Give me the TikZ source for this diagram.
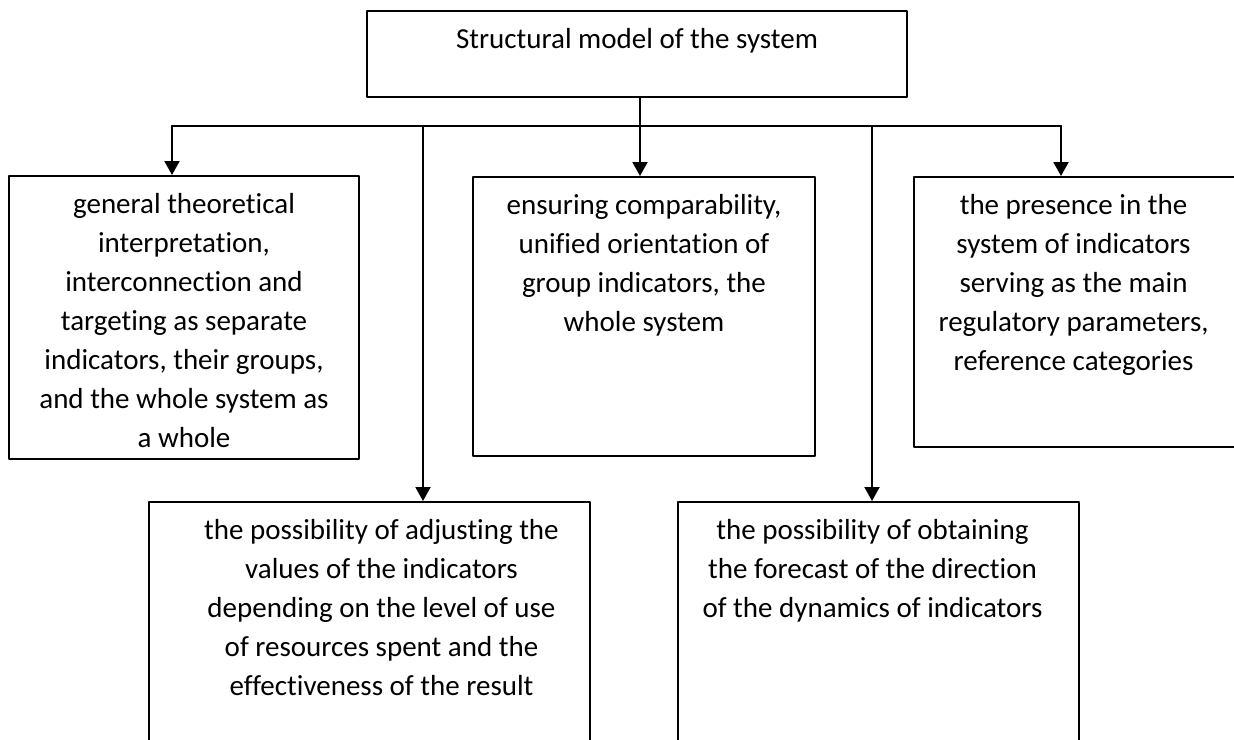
\documentclass[tikz,border=0pt]{standalone}
\usepackage{fontspec}
\setmainfont{Carlito}[Ligatures=NoCommon]
\usetikzlibrary{arrows.meta}

% text of a block: top aligned, centred, optional sideways shift
\newcommand{\boxtext}[4][0pt]{\parbox[c][#3][t]{#2}{\centering\leftskip=#1 plus 1fil\rightskip=-#1 plus 1fil\rule{0pt}{37pt}#4}}

\tikzset{blockbox/.style={draw, line width=2pt, inner sep=0pt, anchor=north west, font=\fontsize{29}{39}\selectfont}}

\begin{document}
\begin{tikzpicture}[line cap=round,line join=round,>={Triangle[width=15pt,length=14pt]},x=1pt,y=-1pt]
      \useasboundingbox (0,0) rectangle (1234,739);
      \clip (0,0) rectangle (1234,739);

      \node[blockbox] (model) at (366,10) {\boxtext{540pt}{86pt}{Structural model of the system}};

      \node[blockbox] (theory) at (8,175) {\boxtext{350pt}{283pt}{general theoretical\\ interpretation,\\ interconnection and\\ targeting as separate\\ indicators, their groups,\\ and the whole system as\\ a whole}};
      \node[blockbox] (compar) at (472,176) {\boxtext{342pt}{279pt}{ensuring comparability,\\ unified orientation of\\ group indicators, the\\ whole system}};
      \node[blockbox] (presence) at (913,176) {\boxtext[-9pt]{337pt}{270pt}{the presence in the\\ system of indicators\\ serving as the main\\ regulatory parameters,\\ reference categories}};
      \node[blockbox] (adjust) at (148,501) {\boxtext[12pt]{441pt}{300pt}{the possibility of adjusting the\\ values of the indicators\\ depending on the level of use\\ of resources spent and the\\ effectiveness of the result}};
      \node[blockbox] (forecast) at (677,501) {\boxtext[-6pt]{401pt}{300pt}{the possibility of obtaining\\ the forecast of the direction\\ of the dynamics of indicators}};

      % bus under the top block
      \coordinate (stem) at (640,126);
      \coordinate (j1) at (172,126);
      \coordinate (j2) at (423,126);
      \coordinate (j3) at (640,126);
      \coordinate (j4) at (872,126);
      \coordinate (j5) at (1061,126);

      \draw[line width=2pt] (stem |- model.south) -- (stem);
      \draw[line width=2pt] (j1) -- (j5);
      \foreach \j/\b in {j1/theory,j2/adjust,j3/compar,j4/forecast,j5/presence}{
        \draw[line width=2pt,->] (\j) -- (\j |- \b.north);
      }
    \end{tikzpicture}
\end{document}
